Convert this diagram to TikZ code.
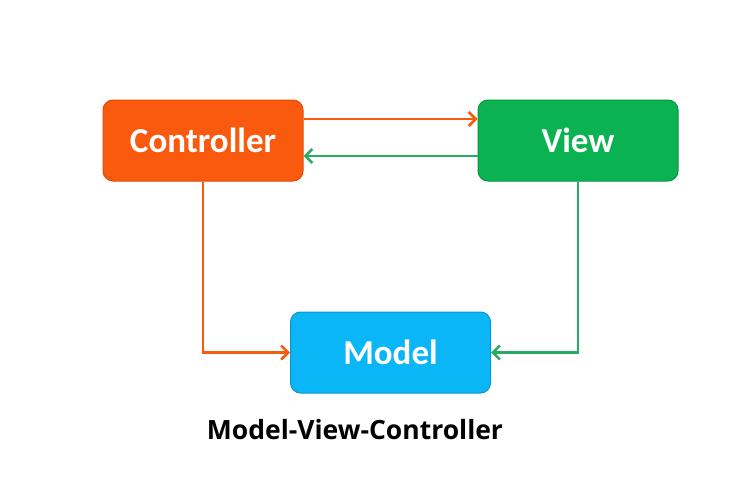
\documentclass[tikz,border=0pt]{standalone}
\usepackage{fontspec}
\setmainfont{Carlito}
\newfontfamily\capfont{Open Sans}
\usetikzlibrary{arrows.meta,positioning,calc}
\definecolor{MVCorange}{RGB}{250,90,14}
\definecolor{MVCorangeline}{RGB}{225,75,5}
\definecolor{MVCgreen}{RGB}{10,178,82}
\definecolor{MVCgreenline}{RGB}{5,150,65}
\definecolor{MVCblue}{RGB}{10,182,245}
\definecolor{MVCblueline}{RGB}{10,150,205}
\definecolor{MVCarrowgreen}{RGB}{40,172,95}

\begin{document}
\begin{tikzpicture}[x=1pt, y=1pt, node distance=174pt, box/.style={rounded corners=10pt,minimum width=200pt,minimum height=81pt,line width=1pt,text=white,font=\bfseries\fontsize{35}{35}\selectfont}, arr/.style={-{Straight Barb[length=7pt,width=14pt]},line width=2.6pt}]
\useasboundingbox (0,0) rectangle (752,-490);
\node[box,fill=MVCorange,draw=MVCorangeline] (ctrl) at (203,-140.5) {Controller};
\node[box,fill=MVCgreen,draw=MVCgreenline,right=of ctrl] (view) {View};
\node[box,fill=MVCblue,draw=MVCblueline] (model) at ($(ctrl)!0.5!(view)+(0,-212)$) {Model};
\node[font=\capfont\bfseries\fontsize{26.5}{26.5}\selectfont] (title) at (355,-430) {Model-View-Controller};
\draw[arr,MVCorange] ([yshift=21.5pt]ctrl.east) -- ([yshift=21.5pt]view.west);
\draw[arr,MVCarrowgreen] ([yshift=-15.5pt]view.west) -- ([yshift=-15.5pt]ctrl.east);
\draw[arr,MVCorange] (ctrl.south) |- (model.west);
\draw[arr,MVCarrowgreen] (view.south) |- (model.east);
\end{tikzpicture}
\end{document}
